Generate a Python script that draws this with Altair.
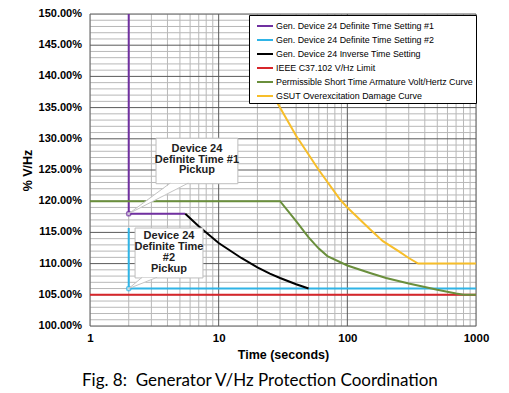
import altair as alt
import pandas as pd
import math

# ---------------- data ----------------
series_names = [
    "Gen. Device 24 Definite Time Setting #1",
    "Gen. Device 24 Definite Time Setting #2",
    "Gen. Device 24 Inverse Time Setting",
    "IEEE C37.102 V/Hz Limit",
    "Permissible Short Time Armature Volt/Hertz Curve",
    "GSUT Overexcitation Damage Curve",
]
series_colors = ["#7030A0", "#2FB4E6", "#000000", "#D7262B", "#6A8F3C", "#F7BE2A"]

purple_t = [2, 2, 5.5]
purple_v = [150, 118, 118]
blue_t = [2, 2, 1000]
blue_v = [115.7, 106, 106]
black_t = [5.5, 7, 10, 15, 20, 25, 30, 40, 50]
black_v = [118, 116.0, 113.3, 110.9, 109.4, 108.4, 107.7, 106.7, 106.0]
red_t = [1, 1000]
red_v = [105, 105]
green_t = [1, 30, 40, 50, 60, 70, 100, 150, 200, 300, 500, 700, 800, 1000]
green_v = [120, 120, 116.8, 114.2, 112.4, 111.2, 109.7, 108.5, 107.7, 106.8, 105.8, 105.2, 105, 105]
yellow_t = [24, 27.4, 40, 60, 87.6, 100, 150, 189, 250, 300, 355, 1000]
yellow_v = [140, 136.4, 130.5, 125, 120.3, 119, 115.5, 113.6, 112, 110.9, 110, 110]

pickup_t = [2, 2]
pickup_v = [118, 106]
pickup_series = [series_names[0], series_names[1]]

x_labels = [1, 10, 100, 1000]
x_minor = [2, 3, 4, 5, 6, 7, 8, 9, 20, 30, 40, 50, 60, 70, 80, 90,
           200, 300, 400, 500, 600, 700, 800, 900]
y_labels = [100, 105, 110, 115, 120, 125, 130, 135, 140, 145, 150]
y_label_text = ["100.00%", "105.00%", "110.00%", "115.00%", "120.00%", "125.00%",
                "130.00%", "135.00%", "140.00%", "145.00%", "150.00%"]
y_minor = [v for v in range(100, 151) if v % 5 != 0]

# callouts: box (t_left, t_right, v_bottom, v_top), wedge base (t_a, t_b), target (t, v), text
callout_text = ["Device 24\nDefinite Time #1\nPickup", "Device 24\nDefinite Time\n#2\nPickup"]
callout_box_t1 = [3.26, 2.24]
callout_box_t2 = [14.1, 7.55]
callout_box_v1 = [122.8, 107.7]
callout_box_v2 = [130.1, 115.7]
callout_base_ta = [4.2, 2.54]
callout_base_tb = [5.8, 3.32]
callout_target_t = [2, 2]
callout_target_v = [118, 106]
callout_text_t = [6.78, 4.11]
callout_text_v = [128.4, 114.4]   # first line of each callout

# ---------------- frames ----------------
rows = []
for name, ts, vs in zip(series_names,
                        [purple_t, blue_t, black_t, red_t, green_t, yellow_t],
                        [purple_v, blue_v, black_v, red_v, green_v, yellow_v]):
    for i, (t, v) in enumerate(zip(ts, vs)):
        rows.append({"series": name, "t": t, "v": v, "idx": i})
lines_df = pd.DataFrame(rows)

pick_df = pd.DataFrame({"t": pickup_t, "v": pickup_v, "series": pickup_series})

box_df = pd.DataFrame({"t1": callout_box_t1, "t2": callout_box_t2,
                       "v1": callout_box_v1, "v2": callout_box_v2})

tri_rows = []
edge_rows = []
for k in range(2):
    xp, yp = callout_target_t[k], callout_target_v[k]
    xa, xb, yb = callout_base_ta[k], callout_base_tb[k], callout_box_v1[k]
    frac = (math.log10(xa) - math.log10(xp)) / (math.log10(xb) - math.log10(xp))
    y_pb = yp + (yb - yp) * frac
    tri_rows += [
        {"k": k, "t": xp, "hi": yp, "lo": yp},
        {"k": k, "t": xa, "hi": yb, "lo": y_pb},
        {"k": k, "t": xb, "hi": yb, "lo": yb},
    ]
    edge_rows += [
        {"t": xp, "v": yp, "t2": xa, "v2": yb + 0.1},
        {"t": xp, "v": yp, "t2": xb, "v2": yb + 0.1},
    ]
tri_df = pd.DataFrame(tri_rows)
edge_df = pd.DataFrame(edge_rows)
text_df = pd.DataFrame({"t": callout_text_t, "v": callout_text_v, "txt": callout_text})
ylab_df = pd.DataFrame({"v": y_labels, "txt": y_label_text})

# ---------------- chart ----------------
FONT = "Liberation Sans"
x_scale = alt.Scale(type="log", domain=[1, 1000], nice=False)
y_scale = alt.Scale(domain=[100, 150], nice=False, zero=False)
MINOR = "#b8b8b8"
MAJOR = "#5a5a5a"

x_axis = alt.Axis(
    values=x_labels, format="d", grid=False,
    ticks=False, domain=False, labelOverlap=False, labelFlush=False,
    labelFont=FONT, labelFontWeight="bold", labelFontSize=11.5, labelColor="black",
    labelPadding=6,
    title="Time (seconds)", titleFont=FONT, titleFontWeight="bold", titleFontSize=12.5,
    titleColor="black", titlePadding=5,
)
y_axis = alt.Axis(
    values=y_labels, labels=False, grid=False, ticks=False, domain=False,
    title="% V/Hz", titleFont=FONT, titleFontWeight="bold", titleFontSize=12.5,
    titleColor="black", titlePadding=56,
)

xmin_rules = alt.Chart(pd.DataFrame({"t": x_minor})).mark_rule(color=MINOR, strokeWidth=1).encode(
    x=alt.X("t:Q", scale=x_scale, axis=x_axis))
ymin_rules = alt.Chart(pd.DataFrame({"v": y_minor})).mark_rule(color=MINOR, strokeWidth=1).encode(
    y=alt.Y("v:Q", scale=y_scale, axis=y_axis))
xmaj_rules = alt.Chart(pd.DataFrame({"t": x_labels})).mark_rule(color=MAJOR, strokeWidth=1).encode(
    x=alt.X("t:Q", scale=x_scale, axis=x_axis))
ymaj_rules = alt.Chart(pd.DataFrame({"v": y_labels})).mark_rule(color=MAJOR, strokeWidth=1).encode(
    y=alt.Y("v:Q", scale=y_scale, axis=y_axis))

ylabels = alt.Chart(ylab_df).mark_text(
    font=FONT, fontWeight="bold", fontSize=11, align="right", baseline="middle",
    color="black", dx=-8,
).encode(
    x=alt.value(0),
    y=alt.Y("v:Q", scale=y_scale, axis=y_axis),
    text="txt:N",
)

color_scale = alt.Scale(domain=series_names, range=series_colors)

lines = alt.Chart(lines_df).mark_line(strokeWidth=2, clip=True).encode(
    x=alt.X("t:Q", scale=x_scale, axis=x_axis),
    y=alt.Y("v:Q", scale=y_scale, axis=y_axis),
    color=alt.Color("series:N", scale=color_scale, sort=series_names,
                    legend=alt.Legend(
                        title=None, orient="none", legendX=159, legendY=1,
                        symbolType="stroke", symbolSize=256, symbolStrokeWidth=2,
                        symbolOffset=5,
                        labelFont=FONT, labelFontSize=8.9, labelColor="black",
                        labelOffset=2, rowPadding=-2.3, padding=2,
                        fillColor="white", strokeColor="black",
                        labelLimit=400, zindex=1,
                    )),
    detail="series:N",
    order="idx:Q",
)

pickups = alt.Chart(pick_df).mark_point(size=18, filled=False, strokeWidth=1.5, fill="white").encode(
    x=alt.X("t:Q", scale=x_scale),
    y=alt.Y("v:Q", scale=y_scale),
    color=alt.Color("series:N", scale=color_scale, legend=None),
)

boxes = alt.Chart(box_df).mark_rect(fill="white", stroke="#bdbdbd", strokeWidth=1).encode(
    x=alt.X("t1:Q", scale=x_scale), x2="t2:Q",
    y=alt.Y("v1:Q", scale=y_scale), y2="v2:Q",
)

wedges = alt.Chart(tri_df).mark_area(fill="white", opacity=1).encode(
    x=alt.X("t:Q", scale=x_scale),
    y=alt.Y("hi:Q", scale=y_scale), y2="lo:Q",
    detail="k:N",
)

edges = alt.Chart(edge_df).mark_rule(color="#c4c4c4", strokeWidth=1).encode(
    x=alt.X("t:Q", scale=x_scale), x2="t2:Q",
    y=alt.Y("v:Q", scale=y_scale), y2="v2:Q",
)

texts = alt.Chart(text_df).mark_text(
    font=FONT, fontWeight="bold", fontSize=11, lineBreak="\n", lineHeight=10.8,
    align="center", baseline="middle", color="#222222",
).encode(
    x=alt.X("t:Q", scale=x_scale),
    y=alt.Y("v:Q", scale=y_scale),
    text="txt:N",
)

chart = alt.layer(xmin_rules, ymin_rules, xmaj_rules, ymaj_rules, ylabels,
                  lines, pickups, boxes, wedges, edges, texts).properties(
    width=386, height=312,
    padding={"left": 13, "top": 0, "right": 5, "bottom": 5},
    title=alt.TitleParams(
        text="Fig. 8:\u00a0 Generator V/Hz Protection Coordination",
        orient="bottom", anchor="start", frame="group", dx=-8, offset=12,
        font="Lato", fontSize=17, fontWeight="normal", color="black",
    ),
).configure_view(stroke="black", strokeWidth=1.2).configure(background="white")

chart.save("out.html", embed_options={"renderer": "svg", "actions": False})
